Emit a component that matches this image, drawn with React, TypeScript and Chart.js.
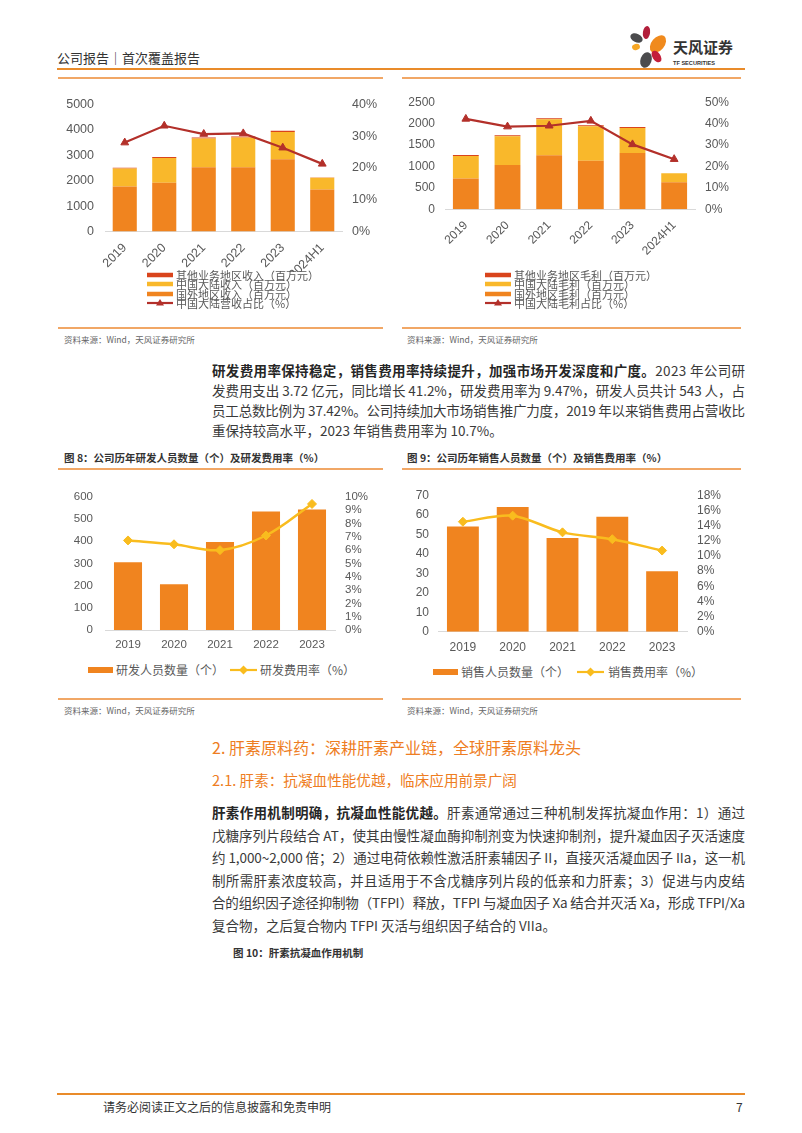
import React, { useEffect, useLayoutEffect, useRef } from "react";
import { Chart, registerables } from "chart.js";
Chart.register(...registerables);

// ---------- data ----------
const revYears = ["2019", "2020", "2021", "2022", "2023", "2024H1"];
const revOverseas = [1770, 1920, 2530, 2530, 2840, 1650];
const revMainland = [710, 970, 1130, 1170, 1080, 470];
const revOther = [25, 40, 40, 40, 50, 5];
const revMainlandShare = [28.0, 33.3, 30.7, 30.9, 26.4, 21.3];
const revNames = ["其他业务地区收入（百万元）", "中国大陆收入（百万元）", "国外地区收入（百万元）", "中国大陆营收占比（%）"];

const gpYears = ["2019", "2020", "2021", "2022", "2023", "2024H1"];
const gpOverseas = [720, 1036, 1261, 1134, 1314, 631];
const gpMainland = [525, 668, 841, 803, 586, 210];
const gpOther = [20, 23, 23, 23, 22, 3];
const gpMainlandShare = [42.2, 38.6, 39.0, 41.3, 30.3, 23.4];
const gpNames = ["其他业务地区毛利（百万元）", "中国大陆毛利（百万元）", "国外地区毛利（百万元）", "中国大陆毛利占比（%）"];

const staffYears = ["2019", "2020", "2021", "2022", "2023"];
const rdStaff = [305, 206, 397, 534, 543];
const rdRate = [6.73, 6.44, 6.0, 7.1, 9.47];
const rdNames = ["研发人员数量（个）", "研发费用率（%）"];

const salesStaff = [54, 64, 48, 59, 31];
const salesRate = [14.5, 15.3, 13.1, 12.2, 10.7];
const salesNames = ["销售人员数量（个）", "销售费用率（%）"];

// ---------- styles ----------
const ORANGE = "#F0841F";
const YELLOW = "#F9B82B";
const RED = "#D9441C";
const DARKRED = "#B3302A";
const GOLD = "#F9BC1E";
const TICK = "#595959";
const LINE_ORANGE = "#F1A766";
const CJK = '"Noto Sans CJK SC", "Noto Sans", sans-serif';
const LAT = '"Liberation Sans", Arial, sans-serif';

type Box = { left: number; top: number; width: number; height: number };
type Plot = { l: number; r: number; t: number; b: number };
type Spec = {
  box: Box;
  plot: Plot;
  labels: string[];
  bars: { label: string; data: number[]; color: string }[];
  line: { label: string; data: number[]; color: string; point: string; radius: number; tension: number; width: number };
  yMax: number;
  yStep: number;
  y1Max: number;
  y1Step: number;
  fontSize: number;
  rotation: number;
  xPad: number;
  yPad: number;
  y1Pad: number;
  barPct: number;
};

function makeConfig(s: Spec): any {
  const yW = s.plot.l - s.box.left;
  const y1W = s.box.left + s.box.width - s.plot.r;
  const padTop = s.plot.t - s.box.top;
  const xH = s.box.top + s.box.height - s.plot.b;
  const font = { family: LAT, size: s.fontSize };
  return {
    type: "bar",
    data: {
      labels: s.labels,
      datasets: [
        ...s.bars.map((b) => ({
          type: "bar",
          label: b.label,
          data: b.data,
          backgroundColor: b.color,
          borderWidth: 0,
          yAxisID: "y",
          order: 1,
          categoryPercentage: 1,
          barPercentage: s.barPct,
        })),
        {
          type: "line",
          label: s.line.label,
          data: s.line.data,
          yAxisID: "y1",
          borderColor: s.line.color,
          backgroundColor: s.line.color,
          borderWidth: s.line.width,
          pointStyle: s.line.point,
          pointRadius: s.line.radius,
          pointBackgroundColor: s.line.color,
          pointBorderColor: s.line.color,
          pointBorderWidth: 1,
          tension: s.line.tension,
          order: 0,
        },
      ],
    },
    options: {
      animation: false,
      responsive: false,
      maintainAspectRatio: false,
      layout: { padding: { top: padTop, left: 0, right: 0, bottom: 0 } },
      plugins: { legend: { display: false }, tooltip: { enabled: false } },
      scales: {
        x: {
          stacked: true,
          grid: { display: false, drawTicks: false },
          border: { display: true, color: "#D9D9D9", width: 1 },
          ticks: { color: TICK, font, maxRotation: s.rotation, minRotation: s.rotation, padding: s.xPad, autoSkip: false },
          afterFit: (sc: any) => {
            sc.height = xH;
          },
        },
        y: {
          position: "left",
          stacked: true,
          min: 0,
          max: s.yMax,
          grid: { display: false, drawTicks: false },
          border: { display: false },
          ticks: { stepSize: s.yStep, color: TICK, font, padding: s.yPad, autoSkip: false, callback: (v: any) => String(v) },
          afterFit: (sc: any) => {
            sc.width = yW;
          },
        },
        y1: {
          position: "right",
          stacked: false,
          min: 0,
          max: s.y1Max,
          grid: { display: false, drawTicks: false },
          border: { display: false },
          ticks: { stepSize: s.y1Step, color: TICK, font, padding: s.y1Pad, autoSkip: false, callback: (v: any) => v + "%" },
          afterFit: (sc: any) => {
            sc.width = y1W;
          },
        },
      },
    },
  };
}

function ChartCanvas({ spec }: { spec: Spec }) {
  const ref = useRef<HTMLCanvasElement>(null);
  useEffect(() => {
    const c = new Chart(ref.current as HTMLCanvasElement, makeConfig(spec));
    return () => c.destroy();
  }, []);
  const b = spec.box;
  return (
    <canvas
      ref={ref}
      width={b.width}
      height={b.height}
      style={{ position: "absolute", left: b.left, top: b.top, width: b.width, height: b.height }}
    />
  );
}

// ---------- chart specs ----------
const specA: Spec = {
  box: { left: 53, top: 86, width: 332, height: 186 },
  plot: { l: 105, r: 342, t: 100.7, b: 231.5 },
  labels: revYears,
  bars: [
    { label: revNames[2], data: revOverseas, color: ORANGE },
    { label: revNames[1], data: revMainland, color: YELLOW },
    { label: revNames[0], data: revOther, color: RED },
  ],
  line: { label: revNames[3], data: revMainlandShare, color: DARKRED, point: "triangle", radius: 4.5, tension: 0, width: 2.2 },
  yMax: 5000,
  yStep: 1000,
  y1Max: 40,
  y1Step: 10,
  fontSize: 12.5,
  rotation: 45,
  xPad: 9,
  yPad: 11,
  y1Pad: 10,
  barPct: 0.61,
};

const specB: Spec = {
  box: { left: 405, top: 85, width: 340, height: 180 },
  plot: { l: 445, r: 695, t: 98.3, b: 209.3 },
  labels: gpYears,
  bars: [
    { label: gpNames[2], data: gpOverseas, color: ORANGE },
    { label: gpNames[1], data: gpMainland, color: YELLOW },
    { label: gpNames[0], data: gpOther, color: RED },
  ],
  line: { label: gpNames[3], data: gpMainlandShare, color: DARKRED, point: "triangle", radius: 4.5, tension: 0, width: 2.2 },
  yMax: 2500,
  yStep: 500,
  y1Max: 50,
  y1Step: 10,
  fontSize: 12,
  rotation: 45,
  xPad: 9,
  yPad: 10,
  y1Pad: 10,
  barPct: 0.62,
};

const specC: Spec = {
  box: { left: 58, top: 478, width: 327, height: 177 },
  plot: { l: 105, r: 335, t: 493.3, b: 630 },
  labels: staffYears,
  bars: [{ label: rdNames[0], data: rdStaff, color: ORANGE }],
  line: { label: rdNames[1], data: rdRate, color: GOLD, point: "rectRot", radius: 4.5, tension: 0.35, width: 2.5 },
  yMax: 600,
  yStep: 100,
  y1Max: 10,
  y1Step: 1,
  fontSize: 11.5,
  rotation: 0,
  xPad: 8,
  yPad: 12,
  y1Pad: 10,
  barPct: 0.61,
};

const specD: Spec = {
  box: { left: 405, top: 478, width: 340, height: 180 },
  plot: { l: 438, r: 687, t: 491.7, b: 631.7 },
  labels: staffYears,
  bars: [{ label: salesNames[0], data: salesStaff, color: ORANGE }],
  line: { label: salesNames[1], data: salesRate, color: GOLD, point: "rectRot", radius: 4.5, tension: 0.3, width: 2.5 },
  yMax: 70,
  yStep: 10,
  y1Max: 18,
  y1Step: 2,
  fontSize: 12,
  rotation: 0,
  xPad: 9,
  yPad: 9,
  y1Pad: 10,
  barPct: 0.64,
};

// ---------- HTML helpers ----------
function Txt({ x, y, size, children, color = "#333", weight = 400, family = CJK, lh }: any) {
  const h = lh || size * 1.4;
  return (
    <div
      style={{
        position: "absolute",
        left: x,
        top: y - h / 2,
        height: h,
        lineHeight: h + "px",
        fontSize: size,
        color,
        fontWeight: weight,
        fontFamily: family,
        whiteSpace: "nowrap",
      }}
    >
      {children}
    </div>
  );
}

function HLine({ x1, x2, y, color = LINE_ORANGE, w = 1.5 }: any) {
  return <div style={{ position: "absolute", left: x1, top: y - w / 2, width: x2 - x1, height: w, background: color }} />;
}

function Swatch({ kind, color, x, y, w, h = 5 }: any) {
  const H = 12;
  return (
    <svg style={{ position: "absolute", left: x, top: y - H / 2 }} width={w} height={H}>
      {kind === "bar" && <rect x={0} y={H / 2 - h / 2} width={w} height={h} fill={color} />}
      {kind !== "bar" && <line x1={0} x2={w} y1={H / 2} y2={H / 2} stroke={color} strokeWidth={2.2} />}
      {kind === "tri" && <polygon points={`${w / 2},${H / 2 - 4} ${w / 2 + 4},${H / 2 + 2.5} ${w / 2 - 4},${H / 2 + 2.5}`} fill={color} />}
      {kind === "dia" && <polygon points={`${w / 2},${H / 2 - 4.5} ${w / 2 + 4.5},${H / 2} ${w / 2},${H / 2 + 4.5} ${w / 2 - 4.5},${H / 2}`} fill={color} />}
    </svg>
  );
}

const TEXT_LEFT = 212;
const TEXT_WIDTH = 533;

function Line({ top, children, last, lh }: any) {
  const ref = useRef<HTMLSpanElement>(null);
  useLayoutEffect(() => {
    const fit = () => {
      const el = ref.current;
      if (!el || last) return;
      el.style.letterSpacing = "0px";
      const w = el.getBoundingClientRect().width;
      const n = Array.from(el.textContent || "").length;
      if (n > 1) el.style.letterSpacing = (TEXT_WIDTH - w) / (n - 1) + "px";
    };
    fit();
    const fonts: any = (document as any).fonts;
    if (fonts && fonts.ready) fonts.ready.then(fit);
  }, []);
  return (
    <div
      style={{
        position: "absolute",
        left: TEXT_LEFT,
        top,
        height: lh,
        lineHeight: lh + "px",
        fontSize: 13.5,
        fontFamily: CJK,
        color: "#3A3A3A",
        whiteSpace: "nowrap",
      }}
    >
      <span ref={ref} style={{ display: "inline-block" }}>
        {children}
      </span>
    </div>
  );
}

const B = ({ children }: any) => <b style={{ fontWeight: 700, color: "#262626" }}>{children}</b>;

function Logo() {
  return (
    <svg style={{ position: "absolute", left: 620, top: 20 }} width={130} height={52}>
      <ellipse cx={16.5} cy={18} rx={6.5} ry={4.2} transform="rotate(25 16.5 18)" fill="#4B4B4D" />
      <ellipse cx={26.5} cy={12.5} rx={3.6} ry={6.5} transform="rotate(8 26.5 12.5)" fill="#B21F3B" />
      <ellipse cx={38} cy={24} rx={6.5} ry={10} transform="rotate(40 38 24)" fill="#F08A1D" />
      <ellipse cx={16} cy={27} rx={4} ry={3} transform="rotate(-15 16 27)" fill="#F6A623" />
      <ellipse cx={26} cy={40} rx={5.5} ry={8} transform="rotate(20 26 40)" fill="#4B4B4D" />
      <ellipse cx={36.5} cy={36.5} rx={4} ry={6.5} transform="rotate(-35 36.5 36.5)" fill="#C41E3A" />
      <text x={53} y={33} fontFamily={CJK} fontWeight={700} fontSize={15} fill="#333">天风证券</text>
      <text x={53} y={45} fontFamily={LAT} fontWeight={700} fontSize={5.6} fill="#333">TF SECURITIES</text>
    </svg>
  );
}

export default function App() {
  const p1 = 360;
  const lh1 = 20;
  const p2 = 801;
  const lh2 = 22.5;
  const legColors = [RED, YELLOW, ORANGE, DARKRED];
  return (
    <div
      style={{
        position: "absolute",
        left: 0,
        top: 0,
        width: 802,
        height: 1133,
        overflow: "hidden",
        background: "#fff",
        fontFamily: CJK,
      }}
    >
      {/* header */}
      <Txt x={57} y={58} size={13} color="#333">公司报告｜首次覆盖报告</Txt>
      <Logo />
      <HLine x1={57} x2={745} y={69} color="#E98B2A" w={2} />

      {/* top panels */}
      <HLine x1={58} x2={383} y={78} />
      <HLine x1={402} x2={741} y={78} />
      <ChartCanvas spec={specA} />
      <ChartCanvas spec={specB} />

      {/* legend A */}
      {[0, 1, 2, 3].map((i) => (
        <React.Fragment key={"la" + i}>
          <Swatch kind={i === 3 ? "tri" : "bar"} color={legColors[i]} x={147} y={275 + i * 9.4} w={26} h={4.5} />
          <Txt x={176} y={275 + i * 9.4} size={11} color={TICK} lh={12}>{revNames[i]}</Txt>
        </React.Fragment>
      ))}
      {/* legend B */}
      {[0, 1, 2, 3].map((i) => (
        <React.Fragment key={"lb" + i}>
          <Swatch kind={i === 3 ? "tri" : "bar"} color={legColors[i]} x={485} y={275 + i * 9.4} w={26} h={4.5} />
          <Txt x={514} y={275 + i * 9.4} size={11} color={TICK} lh={12}>{gpNames[i]}</Txt>
        </React.Fragment>
      ))}

      <HLine x1={58} x2={383} y={328} />
      <HLine x1={402} x2={741} y={328} />
      <Txt x={64} y={340} size={8.5} color="#666">资料来源：Wind，天风证券研究所</Txt>
      <Txt x={407} y={340} size={8.5} color="#666">资料来源：Wind，天风证券研究所</Txt>

      {/* paragraph 1 */}
      <Line top={p1} lh={lh1}>
        <B>研发费用率保持稳定，销售费用率持续提升，加强市场开发深度和广度。</B>2023 年公司研
      </Line>
      <Line top={p1 + lh1} lh={lh1}>
        发费用支出 3.72 亿元，同比增长 41.2%，研发费用率为 9.47%，研发人员共计 543 人，占
      </Line>
      <Line top={p1 + lh1 * 2} lh={lh1}>
        员工总数比例为 37.42%。公司持续加大市场销售推广力度，2019 年以来销售费用占营收比
      </Line>
      <Line top={p1 + lh1 * 3} lh={lh1} last>
        重保持较高水平，2023 年销售费用率为 10.7%。
      </Line>

      {/* figure 8 / 9 */}
      <Txt x={64} y={458} size={10.5} weight={700} color="#333">图 8：公司历年研发人员数量（个）及研发费用率（%）</Txt>
      <Txt x={407} y={458} size={10.5} weight={700} color="#333">图 9：公司历年销售人员数量（个）及销售费用率（%）</Txt>
      <HLine x1={58} x2={383} y={469} />
      <HLine x1={402} x2={741} y={469} />
      <ChartCanvas spec={specC} />
      <ChartCanvas spec={specD} />

      <Swatch kind="bar" color={ORANGE} x={88} y={670} w={25} h={6} />
      <Txt x={116} y={670} size={12} color={TICK}>{rdNames[0]}</Txt>
      <Swatch kind="dia" color={GOLD} x={230} y={670} w={27} />
      <Txt x={260} y={670} size={12} color={TICK}>{rdNames[1]}</Txt>

      <Swatch kind="bar" color={ORANGE} x={433} y={672} w={25} h={6} />
      <Txt x={461} y={672} size={12} color={TICK}>{salesNames[0]}</Txt>
      <Swatch kind="dia" color={GOLD} x={577} y={672} w={27} />
      <Txt x={608} y={672} size={12} color={TICK}>{salesNames[1]}</Txt>

      <HLine x1={58} x2={383} y={699} />
      <HLine x1={402} x2={741} y={699} />
      <Txt x={64} y={711} size={8.5} color="#666">资料来源：Wind，天风证券研究所</Txt>
      <Txt x={407} y={711} size={8.5} color="#666">资料来源：Wind，天风证券研究所</Txt>

      {/* section headings */}
      <Txt x={212} y={747} size={16} color="#EE7D22">2. 肝素原料药：深耕肝素产业链，全球肝素原料龙头</Txt>
      <Txt x={212} y={780} size={14.6} color="#EE7D22">2.1. 肝素：抗凝血性能优越，临床应用前景广阔</Txt>

      {/* paragraph 2 */}
      <Line top={p2} lh={lh2}>
        <B>肝素作用机制明确，抗凝血性能优越。</B>肝素通常通过三种机制发挥抗凝血作用：1）通过
      </Line>
      <Line top={p2 + lh2} lh={lh2}>
        戊糖序列片段结合 AT，使其由慢性凝血酶抑制剂变为快速抑制剂，提升凝血因子灭活速度
      </Line>
      <Line top={p2 + lh2 * 2} lh={lh2}>
        约 1,000~2,000 倍；2）通过电荷依赖性激活肝素辅因子 II，直接灭活凝血因子 IIa，这一机
      </Line>
      <Line top={p2 + lh2 * 3} lh={lh2}>
        制所需肝素浓度较高，并且适用于不含戊糖序列片段的低亲和力肝素；3）促进与内皮结
      </Line>
      <Line top={p2 + lh2 * 4} lh={lh2}>
        合的组织因子途径抑制物（TFPI）释放，TFPI 与凝血因子 Xa 结合并灭活 Xa，形成 TFPI/Xa
      </Line>
      <Line top={p2 + lh2 * 5} lh={lh2} last>
        复合物，之后复合物内 TFPI 灭活与组织因子结合的 VIIa。
      </Line>

      <Txt x={233} y={953} size={10.5} weight={700} color="#333">图 10：肝素抗凝血作用机制</Txt>

      {/* footer */}
      <HLine x1={57} x2={745} y={1094} color="#E98B2A" w={2} />
      <Txt x={103} y={1107} size={12} color="#333">请务必阅读正文之后的信息披露和免责申明</Txt>
      <Txt x={736} y={1107} size={12} color="#333">7</Txt>
    </div>
  );
}
